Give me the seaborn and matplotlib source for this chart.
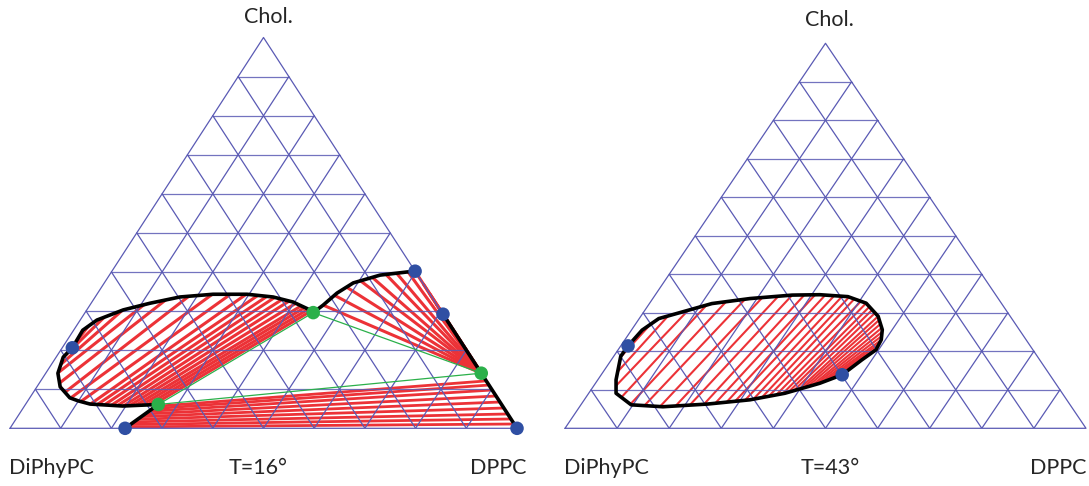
import numpy as np
import matplotlib
matplotlib.use("Agg")
import matplotlib.pyplot as plt
import seaborn as sns

sns.set_style("white")
plt.rcParams["font.family"] = ["Lato", "DejaVu Sans"]

# compositions are given as (Chol. %, DPPC %); DiPhyPC is the rest

# ---------- T = 16 ----------
# closed two-phase loop: lower branch (green point -> critical point) and upper branch
loop16_low_chol = [6.1, 5.7, 6.2, 7.0, 7.8, 10.6, 14.1, 18.2, 20.6]
loop16_low_dppc = [26.2, 19.4, 12.7, 10.0, 7.9, 4.6, 2.4, 1.4, 2.0]
loop16_up_chol = [29.6, 30.3, 32.3, 33.6, 34.3, 34.3, 33.6, 32.0, 30.3, 27.7, 25.1, 20.6]
loop16_up_dppc = [45.0, 44.0, 39.7, 35.1, 29.6, 22.9, 16.7, 11.6, 7.2, 3.3, 1.8, 2.0]
# tie lines, as arc-length fractions along each branch
loop16_tie_low = [0.034, 0.074, 0.115, 0.155, 0.196, 0.236, 0.277, 0.318, 0.365, 0.412,
                  0.459, 0.527, 0.60, 0.655, 0.73, 0.80, 0.86, 0.91, 0.95]
loop16_tie_up = [0.01, 0.023, 0.038, 0.053, 0.076, 0.103, 0.13, 0.16, 0.19, 0.225,
                 0.27, 0.33, 0.40, 0.49, 0.58, 0.665, 0.75, 0.825, 0.895]

# arc from the upper green point to the DPPC side
arc16_chol = [29.6, 31.5, 34.6, 37.2, 39.2, 40.0, 40.2]
arc16_dppc = [45.0, 46.0, 47.2, 49.1, 53.4, 58.3, 59.8]
# fan of tie lines from the right green point to the arc + DPPC side
fan16_chol = arc16_chol + [29.2]
fan16_dppc = arc16_dppc + [70.8]
fan16_tie = [0.076, 0.167, 0.256, 0.35, 0.425, 0.51, 0.575, 0.645, 0.70, 0.78, 0.85, 0.925, 0.985]

# short boundary on the base and the DPPC side boundary
base16_chol = [0.0, 6.1]
base16_dppc = [22.7, 26.2]
side16_chol = [29.2, 14.1, 0.0]
side16_dppc = [70.8, 85.9, 100.0]
# lower two-phase region: tie lines from base segment to DPPC side (fractions from bottom)
low16_tie_left = [0.06, 0.16, 0.27, 0.38, 0.49, 0.60, 0.71, 0.82, 0.92]
low16_tie_right = [0.078, 0.169, 0.26, 0.368, 0.477, 0.586, 0.695, 0.785, 0.86]
low16_right_chol = [0.0, 14.1]
low16_right_dppc = [100.0, 85.9]

# three-phase triangle corners and critical / end points
green16_chol = [29.6, 14.1, 6.1]
green16_dppc = [45.0, 85.9, 26.2]
blue16_chol = [0.0, 0.0, 29.2, 40.2, 20.6]
blue16_dppc = [22.7, 100.0, 70.8, 59.8, 2.0]

# ---------- T = 43 ----------
loop43_low_chol = [21.4, 18.7, 12.6, 9.1, 6.1, 5.6, 6.3, 7.4, 9.1, 11.7, 13.9]
loop43_low_dppc = [1.4, 1.35, 3.5, 5.25, 9.65, 16.0, 24.25, 31.8, 37.65, 43.05, 46.25]
loop43_up_chol = [21.4, 25.5, 28.5, 31.1, 32.4, 33.7, 34.6, 34.7, 34.2, 32.5, 29.1, 25.6,
                  23.0, 20.4, 17.8, 13.9]
loop43_up_dppc = [1.4, 2.05, 3.75, 9.25, 12.0, 18.65, 26.3, 31.55, 37.2, 41.55, 45.55, 48.1,
                  49.2, 49.5, 48.1, 46.25]
loop43_tie_low = [0.048, 0.10, 0.15, 0.20, 0.24, 0.29, 0.345, 0.40, 0.45, 0.50, 0.54, 0.58,
                  0.61, 0.645, 0.675, 0.705, 0.73, 0.757, 0.78, 0.80, 0.82, 0.84, 0.855,
                  0.87, 0.887, 0.90, 0.915, 0.93, 0.945, 0.96, 0.975, 0.988]
loop43_tie_up = [0.09, 0.147, 0.207, 0.262, 0.319, 0.374, 0.424, 0.47, 0.51, 0.545, 0.576,
                 0.605, 0.631, 0.654, 0.674, 0.69, 0.71, 0.726, 0.74, 0.752, 0.764, 0.777,
                 0.788, 0.80, 0.812, 0.824, 0.836, 0.848, 0.86, 0.872, 0.884, 0.896]
blue43_chol = [21.4, 13.9]
blue43_dppc = [1.4, 46.25]

W, H = 1089, 486
GRID = "#5a5ab4"
RED = "#ec3237"
GREEN = "#2bb04a"
BLUE = "#2f4fa3"


def cart(chol, dppc):
    c = np.asarray(chol, float)
    d = np.asarray(dppc, float)
    return d + c / 2, c


def at_frac(chol, dppc, fracs, sx, sy):
    # points at arc-length fractions along a polyline (measured in pixels)
    x, y = cart(chol, dppc)
    s = np.concatenate([[0], np.cumsum(np.hypot(np.diff(x) * sx, np.diff(y) * sy))])
    t = np.asarray(fracs) * s[-1]
    return np.interp(t, s, x), np.interp(t, s, y)


def make_ax(fig, left, bottom, width, height):
    ax = fig.add_axes([left / W, 1 - bottom / H, width / W, height / H])
    ax.set_xlim(0, 100)
    ax.set_ylim(0, 100)
    ax.axis("off")
    for k in range(1, 10):
        v = 10 * k
        ax.plot([v / 2, 100 - v / 2], [v, v], color=GRID, lw=0.9, alpha=0.85, zorder=3)
        ax.plot([v, v + (100 - v) / 2], [0, 100 - v], color=GRID, lw=0.9, zorder=3)
        ax.plot([v, v / 2], [0, v], color=GRID, lw=0.9, zorder=3)
    ax.plot([0, 100, 50, 0], [0, 0, 100, 0], color=GRID, lw=0.9, zorder=3, clip_on=False)
    return ax


def ties(ax, p, q, lw):
    for x0, y0, x1, y1 in zip(p[0], p[1], q[0], q[1]):
        ax.plot([x0, x1], [y0, y1], color=RED, lw=lw, zorder=2, solid_capstyle="butt")


def boundary(ax, chol, dppc):
    x, y = cart(chol, dppc)
    sns.lineplot(x=x, y=y, sort=False, estimator=None, color="black", lw=2.6, ax=ax,
                 zorder=5, clip_on=False)


def dots(ax, chol, dppc, color):
    x, y = cart(chol, dppc)
    sns.scatterplot(x=x, y=y, color=color, s=95, edgecolor="none", ax=ax, zorder=6,
                    clip_on=False)


fig = plt.figure(figsize=(W / 100, H / 100), dpi=100)

# ---- left panel, T=16 ----
lw_, lh_ = 507, 390.8
ax1 = make_ax(fig, 10, 428.3, lw_, lh_)
sx, sy = lw_ / 100, lh_ / 100

ties(ax1, at_frac(loop16_low_chol, loop16_low_dppc, loop16_tie_low, sx, sy),
     at_frac(loop16_up_chol, loop16_up_dppc, loop16_tie_up, sx, sy), 2.2)
n = len(fan16_tie)
g2 = cart([green16_chol[1]] * n, [green16_dppc[1]] * n)
ties(ax1, g2, at_frac(fan16_chol, fan16_dppc, fan16_tie, sx, sy), 2.2)
ties(ax1, at_frac(base16_chol, base16_dppc, low16_tie_left, sx, sy),
     at_frac(low16_right_chol, low16_right_dppc, low16_tie_right, sx, sy), 2.0)

gx, gy = cart(green16_chol + green16_chol[:1], green16_dppc + green16_dppc[:1])
ax1.plot(gx, gy, color=GREEN, lw=0.9, zorder=4)

boundary(ax1, base16_chol + loop16_low_chol + loop16_up_chol[::-1] + arc16_chol,
         base16_dppc + loop16_low_dppc + loop16_up_dppc[::-1] + arc16_dppc)
boundary(ax1, side16_chol, side16_dppc)
dots(ax1, blue16_chol, blue16_dppc, BLUE)
dots(ax1, green16_chol, green16_dppc, GREEN)

# ---- right panel, T=43 ----
rw_, rh_ = 521, 385
ax2 = make_ax(fig, 565, 428.3, rw_, rh_)
sx, sy = rw_ / 100, rh_ / 100
ties(ax2, at_frac(loop43_low_chol, loop43_low_dppc, loop43_tie_low, sx, sy),
     at_frac(loop43_up_chol, loop43_up_dppc, loop43_tie_up, sx, sy), 1.5)
boundary(ax2, loop43_low_chol + loop43_up_chol[::-1], loop43_low_dppc + loop43_up_dppc[::-1])
dots(ax2, blue43_chol, blue43_dppc, BLUE)

# ---- labels ----
fs = 15.5
fig.text(268 / W, 1 - 17 / H, "Chol.", ha="center", va="center", fontsize=fs)
fig.text(829 / W, 1 - 20 / H, "Chol.", ha="center", va="center", fontsize=fs)
for x, s, ha in [(9, "DiPhyPC", "left"), (258, "T=16°", "center"), (527, "DPPC", "right"),
                 (564, "DiPhyPC", "left"), (830, "T=43°", "center"), (1087, "DPPC", "right")]:
    fig.text(x / W, 1 - 468 / H, s, ha=ha, va="center", fontsize=fs)

fig.savefig("out.png", dpi=100)
